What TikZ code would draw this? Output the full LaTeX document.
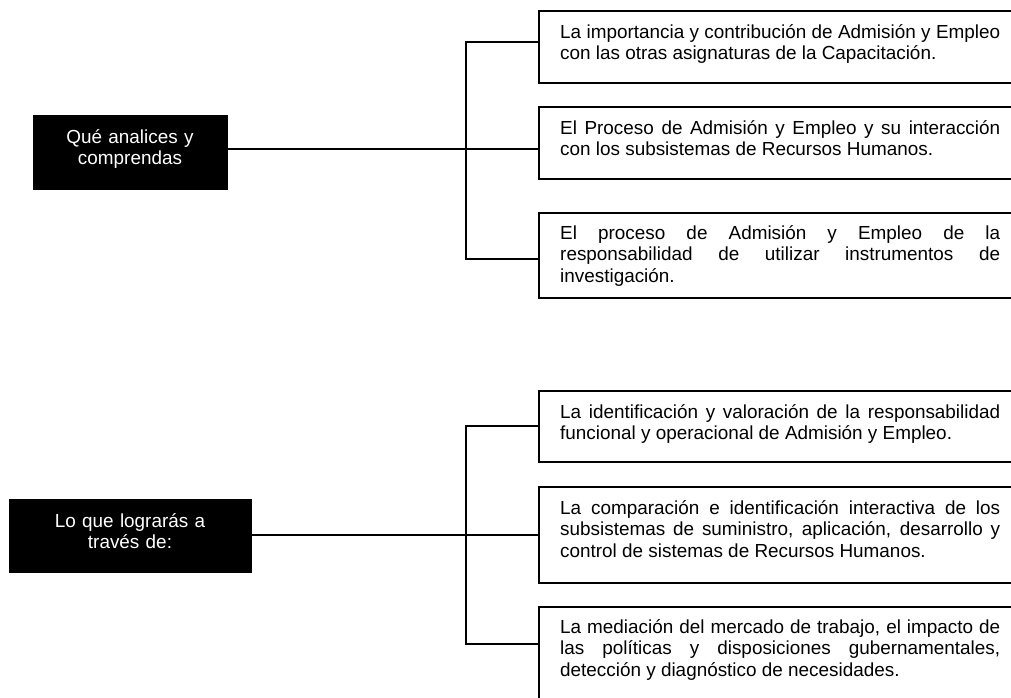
\documentclass[tikz,border=0pt]{standalone}
\usepackage{fontspec}
\setmainfont{Liberation Sans}
\newcommand{\bodyfont}{\fontsize{18.9pt}{21.6pt}\selectfont\hyphenpenalty=10000\exhyphenpenalty=10000}
\tikzset{
  outbox/.style={draw, line width=1.8pt, minimum width=500pt, anchor=north west, inner sep=0pt},
  darkbox/.style={fill=black, draw=black, anchor=north west, inner sep=0pt},
  bodytext/.style={anchor=north west, inner sep=0pt, text width=440pt, align=justify, font=\bodyfont},
  headtext/.style={anchor=north, inner sep=0pt, text width=240pt, align=center, text=white, font=\bodyfont},
  link/.style={line width=1.3pt}
}
\begin{document}
\begin{tikzpicture}[x=1pt, y=-1pt]
\useasboundingbox (0,0) rectangle (1011,698);
\clip (0,0) rectangle (1011,698);
\fill[white] (0,0) rectangle (1011,698);

% first group: headline box and its three items
\node[darkbox, minimum width=194pt, minimum height=74pt] (qa) at (33,115) {};
\node[headtext] (qat) at (130,128) {\strut Qué analices y\\comprendas};

\node[outbox, minimum height=72pt] (b1) at (538,10) {};
\node[outbox, minimum height=72pt] (b2) at (538,106) {};
\node[outbox, minimum height=85pt] (b3) at (538,212) {};
\node[bodytext] (t1) at (560,23) {\strut La importancia y contribución de Admisión y Empleo\linebreak con las otras asignaturas de la Capacitación.};
\node[bodytext] (t2) at (560,119) {\strut El Proceso de Admisión y Empleo y su interacción\linebreak con los subsistemas de Recursos Humanos.};
\node[bodytext] (t3) at (560,224) {\strut El proceso de Admisión y Empleo de la\linebreak responsabilidad de utilizar instrumentos de\linebreak investigación.};

\coordinate (hubA) at (466,149);
\coordinate (topA) at (466,42);
\coordinate (botA) at (466,259);
\draw[link] (qa.east |- hubA) -- (hubA) -- (hubA -| b2.west);
\draw[link] (topA -| b1.west) -- (topA) -- (botA) -- (botA -| b3.west);

% second group: headline box and its three items
\node[darkbox, minimum width=242pt, minimum height=73pt] (lq) at (9,499) {};
\node[headtext] (lqt) at (130,512) {\strut Lo que lograrás a\\través de:};

\node[outbox, minimum height=71pt] (b4) at (538,390) {};
\node[outbox, minimum height=96pt] (b5) at (538,486) {};
\node[outbox, minimum height=120pt] (b6) at (538,606) {};
\node[bodytext] (t4) at (560,403) {\strut La identificación y valoración de la responsabilidad\linebreak funcional y operacional de Admisión y Empleo.};
\node[bodytext] (t5) at (560,499) {\strut La comparación e identificación interactiva de los\linebreak subsistemas de suministro, aplicación, desarrollo y\linebreak control de sistemas de Recursos Humanos.};
\node[bodytext] (t6) at (560,618) {\strut La mediación del mercado de trabajo, el impacto de\linebreak las políticas y disposiciones gubernamentales,\linebreak detección y diagnóstico de necesidades.};

\coordinate (hubB) at (466,535);
\coordinate (topB) at (466,426);
\coordinate (botB) at (466,644);
\draw[link] (lq.east |- hubB) -- (hubB) -- (hubB -| b5.west);
\draw[link] (topB -| b4.west) -- (topB) -- (botB) -- (botB -| b6.west);
\end{tikzpicture}
\end{document}
